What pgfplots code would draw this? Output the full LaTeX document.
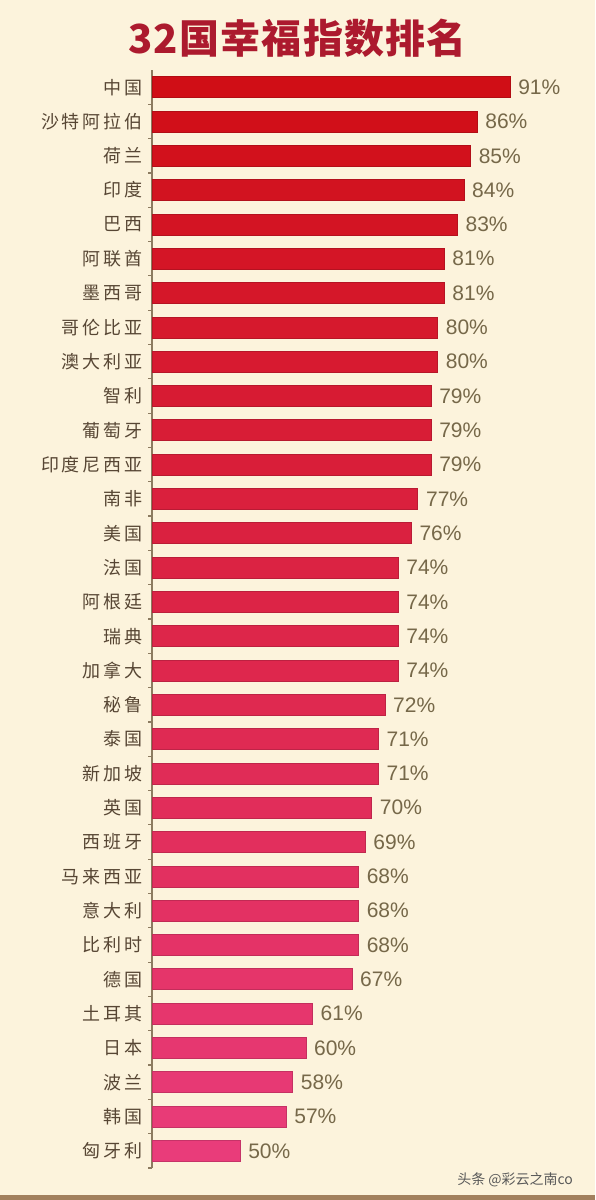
\documentclass[border=0pt]{standalone}
\usepackage{pgfplots}
\pgfplotsset{compat=1.18}
\usepackage{fontspec}
\setmainfont{Liberation Sans}
\newfontfamily\cjk[LetterSpace=16]{Noto Sans CJK SC}
\newfontfamily\cjktitle[LetterSpace=3]{Noto Sans CJK SC}
\newfontfamily\cjkplain{Noto Sans CJK SC}
\definecolor{bg}{HTML}{FCF3DC}
\definecolor{barA}{RGB}{208,14,22}
\definecolor{barB}{RGB}{233,60,122}
\definecolor{lab}{HTML}{574634}
\definecolor{val}{HTML}{766849}
\definecolor{axc}{HTML}{8C7B60}
\definecolor{titlec}{HTML}{AC1A2E}
\begin{document}
\begin{tikzpicture}
\useasboundingbox (0,0) rectangle (297.5pt,600pt);
\fill[bg] (0,0) rectangle (297.5pt,600pt);
\fill[brown!55!gray] (0,0) rectangle (297.5pt,2.5pt);
\node[font=\cjktitle\bfseries\fontsize{20}{24}\selectfont, text=titlec] at (148.75pt,581pt) {32国幸福指数排名};
\node[anchor=east, font=\cjkplain\fontsize{7}{8}\selectfont, text=black!65] at (290pt,10pt) {头条 @彩云之南co};
\begin{axis}[
 at={(76pt,16pt)}, anchor=south west,
 scale only axis, width=219pt, height=549pt,
 xmin=36.64, xmax=103.15, ymin=-0.5, ymax=31.5, y dir=reverse,
 axis x line=none, axis y line=left,
 axis line style={-, axc, line width=0.6pt},
 ytick={0,...,31},
 yticklabels={中国,沙特阿拉伯,荷兰,印度,巴西,阿联酋,墨西哥,哥伦比亚,澳大利亚,智利,葡萄牙,印度尼西亚,南非,美国,法国,阿根廷,瑞典,加拿大,秘鲁,泰国,新加坡,英国,西班牙,马来西亚,意大利,比利时,德国,土耳其,日本,波兰,韩国,匈牙利},
 major tick length=0pt,
 minor ytick={0.5,1.5,...,31.5},
 minor tick length=2pt, tick align=outside,
 minor tick style={axc, line width=0.6pt},
 yticklabel style={font=\cjk\fontsize{9}{10}\selectfont, text=lab, inner sep=0pt, xshift=-4.5pt},
 point meta=x,
 nodes near coords={\pgfmathprintnumber{\pgfplotspointmeta}\%},
 nodes near coords style={font=\fontsize{10.5}{12}\selectfont, text=val, anchor=west, inner sep=1pt, xshift=3pt},
 /pgf/number format/assume math mode=true,
 mybar/.style={xbar, bar width=10.5pt, bar shift=0pt, fill=#1, draw=#1!85!black, line width=0.3pt},
]
\addplot[mybar={barB!0!barA}] coordinates {(91,0)};
\addplot[mybar={barB!3!barA}] coordinates {(86,1)};
\addplot[mybar={barB!6!barA}] coordinates {(85,2)};
\addplot[mybar={barB!10!barA}] coordinates {(84,3)};
\addplot[mybar={barB!13!barA}] coordinates {(83,4)};
\addplot[mybar={barB!16!barA}] coordinates {(81,5)};
\addplot[mybar={barB!19!barA}] coordinates {(81,6)};
\addplot[mybar={barB!23!barA}] coordinates {(80,7)};
\addplot[mybar={barB!26!barA}] coordinates {(80,8)};
\addplot[mybar={barB!29!barA}] coordinates {(79,9)};
\addplot[mybar={barB!32!barA}] coordinates {(79,10)};
\addplot[mybar={barB!35!barA}] coordinates {(79,11)};
\addplot[mybar={barB!39!barA}] coordinates {(77,12)};
\addplot[mybar={barB!42!barA}] coordinates {(76,13)};
\addplot[mybar={barB!45!barA}] coordinates {(74,14)};
\addplot[mybar={barB!48!barA}] coordinates {(74,15)};
\addplot[mybar={barB!52!barA}] coordinates {(74,16)};
\addplot[mybar={barB!55!barA}] coordinates {(74,17)};
\addplot[mybar={barB!58!barA}] coordinates {(72,18)};
\addplot[mybar={barB!61!barA}] coordinates {(71,19)};
\addplot[mybar={barB!65!barA}] coordinates {(71,20)};
\addplot[mybar={barB!68!barA}] coordinates {(70,21)};
\addplot[mybar={barB!71!barA}] coordinates {(69,22)};
\addplot[mybar={barB!74!barA}] coordinates {(68,23)};
\addplot[mybar={barB!77!barA}] coordinates {(68,24)};
\addplot[mybar={barB!81!barA}] coordinates {(68,25)};
\addplot[mybar={barB!84!barA}] coordinates {(67,26)};
\addplot[mybar={barB!87!barA}] coordinates {(61,27)};
\addplot[mybar={barB!90!barA}] coordinates {(60,28)};
\addplot[mybar={barB!94!barA}] coordinates {(58,29)};
\addplot[mybar={barB!97!barA}] coordinates {(57,30)};
\addplot[mybar={barB!100!barA}] coordinates {(50,31)};
\end{axis}
\end{tikzpicture}
\end{document}
